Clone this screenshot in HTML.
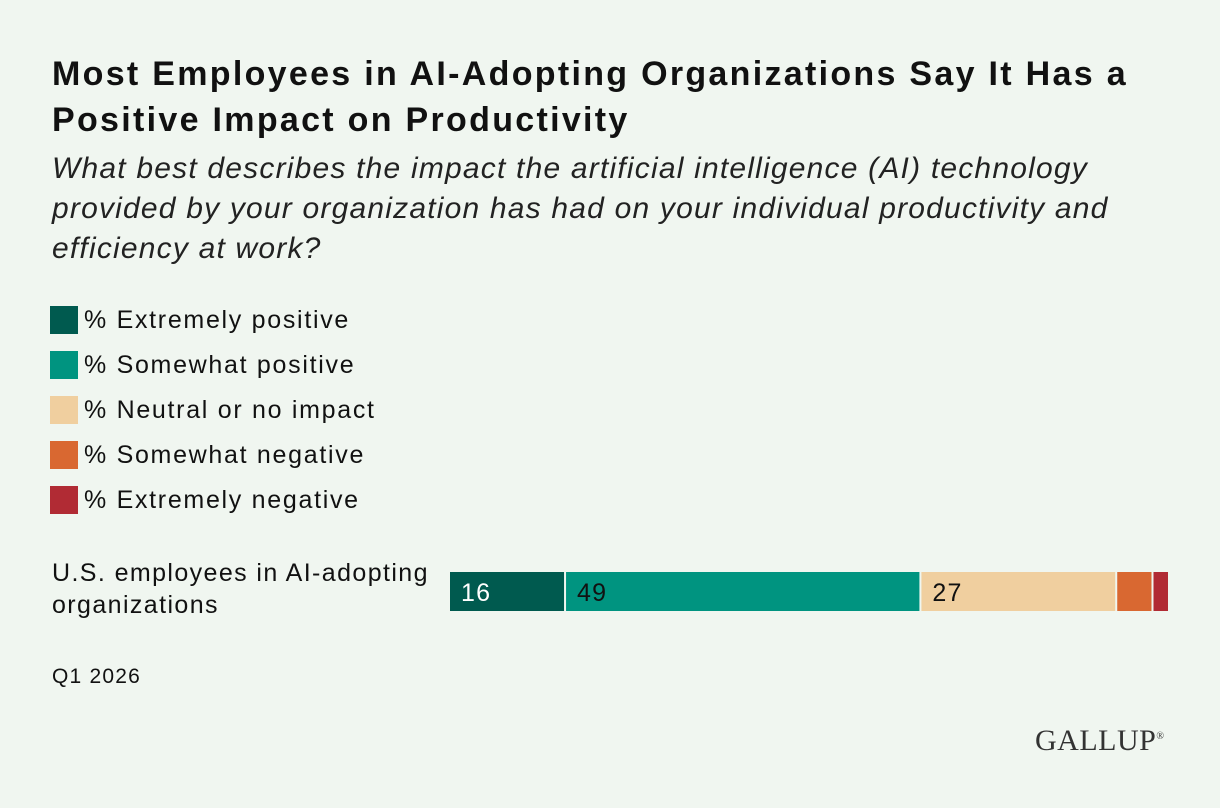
<!DOCTYPE html>
<html><head><meta charset="utf-8">
<style>
body{margin:0;width:1220px;height:808px;background:#f0f6f0;font-family:"Liberation Sans",sans-serif;color:#111;position:relative;overflow:hidden}
.abs{position:absolute;white-space:nowrap}
#title{left:52px;top:51px;font-size:34px;font-weight:bold;line-height:46px;letter-spacing:2.3px}
#sub{left:52px;top:149px;font-size:30px;font-style:italic;line-height:40px;color:#222;letter-spacing:1.2px}
.leg{position:absolute;left:50px;height:28px;font-size:25px;line-height:28px;letter-spacing:1.7px}
.leg span{display:inline-block;width:28px;height:28px;vertical-align:top;margin-right:6px}
#rowlab{left:52px;top:557px;font-size:25px;line-height:32px;letter-spacing:1.4px}
#q{left:52px;top:665px;font-size:21px;letter-spacing:1.2px}
#logo{left:1035px;top:724px;font-family:"Liberation Serif",serif;font-size:30px;color:#333;letter-spacing:0.5px}
</style></head><body>
<div class="abs" id="title">Most Employees in AI-Adopting Organizations Say It Has a<br>Positive Impact on Productivity</div>
<div class="abs" id="sub">What best describes the impact the artificial intelligence (AI) technology<br>provided by your organization has had on your individual productivity and<br>efficiency at work?</div>
<div id="legend"></div>
<div class="abs" id="rowlab">U.S. employees in AI-adopting<br>organizations</div>
<svg class="abs" style="left:0;top:0" width="1220" height="808" id="chart"></svg>
<div class="abs" id="q">Q1 2026</div>
<div class="abs" id="logo">GALLUP<sup style="font-size:10px">®</sup></div>
<script>
const categories=["% Extremely positive","% Somewhat positive","% Neutral or no impact","% Somewhat negative","% Extremely negative"];
const values=[16,49,27,5,2];
const labels=["16","49","27","",""];
const colors=["#005a4f","#009480","#f0cf9f","#d96831","#b12b34"];
const textColors=["#fff","#111","#111","#111","#111"];
const names=["extremely-positive","somewhat-positive","neutral","somewhat-negative","extremely-negative"];
const leg=document.getElementById('legend');
categories.forEach((c,i)=>{
  const d=document.createElement('div');d.className='leg';d.style.top=(306+i*45)+'px';
  
  
  d.innerHTML='<span style="background:'+colors[i]+'"></span>'+c;
  leg.appendChild(d);
});
const x0=450,x1=1168,y=572,h=39,total=values.reduce((a,b)=>a+b,0);
const sx=v=>v/total*(x1-x0);
const svg=document.getElementById('chart');const ns="http://www.w3.org/2000/svg";
let cum=0;
values.forEach((v,i)=>{
  const xs=x0+sx(cum),w=sx(v);cum+=v;
  const r=document.createElementNS(ns,'rect');
  r.setAttribute('x',xs);r.setAttribute('y',y);r.setAttribute('width',Math.max(0,w-(i<values.length-1?2:0)));r.setAttribute('height',h);r.setAttribute('fill',colors[i]);
  
  
  svg.appendChild(r);
  if(labels[i]){const t=document.createElementNS(ns,'text');
    t.setAttribute('x',xs+11);t.setAttribute('y',y+29);t.setAttribute('font-size','25');t.setAttribute('letter-spacing','1.2');t.setAttribute('fill',textColors[i]);t.setAttribute('font-family','Liberation Sans, sans-serif');
    t.textContent=labels[i];
    
    
    svg.appendChild(t);}
});
</script>
</body></html>
